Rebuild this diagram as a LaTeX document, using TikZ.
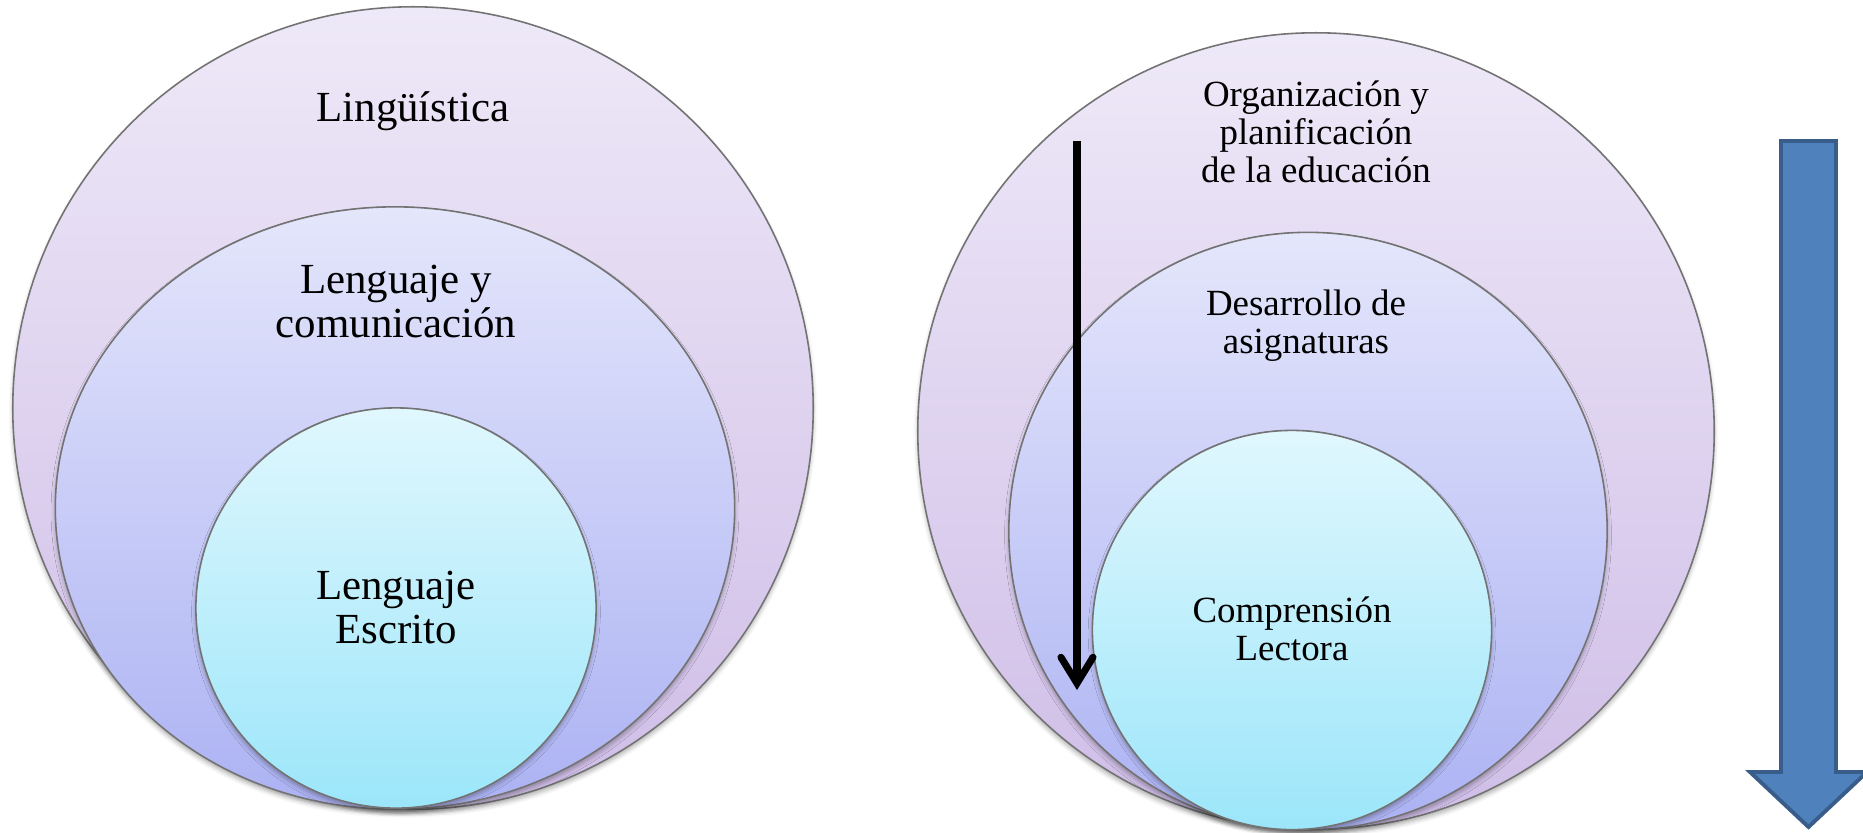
\documentclass[tikz,border=0pt]{standalone}
\usepackage{fontspec}
\setmainfont{Liberation Serif}
\usetikzlibrary{shapes.geometric,arrows.meta,shadows.blur}
\definecolor{oTop}{HTML}{EEE9F8}
\definecolor{oBot}{HTML}{CFBDE7}
\definecolor{mTop}{HTML}{E4E6FB}
\definecolor{mBot}{HTML}{ACB2F3}
\definecolor{iTop}{HTML}{E0F7FD}
\definecolor{iBot}{HTML}{9CE6FA}
\definecolor{arrFill}{HTML}{4F81BD}
\definecolor{arrLine}{HTML}{385D8A}
\begin{document}
\begin{tikzpicture}[x=0.01cm,y=-0.01cm,
  ring/.style={ellipse, draw=black!55, line width=0.45pt, inner sep=0pt,
    blur shadow={shadow xshift=0pt, shadow yshift=-1.1pt, shadow blur radius=1.2pt, shadow opacity=30}},
  outerring/.style={ring, top color=oTop, bottom color=oBot},
  midring/.style={ring, top color=mTop, bottom color=mBot},
  innerring/.style={ring, top color=iTop, bottom color=iBot},
  bigtxt/.style={font=\fontsize{12.2}{12.5}\selectfont, align=center, inner sep=0pt, anchor=base},
  smalltxt/.style={font=\fontsize{10.5}{10.8}\selectfont, align=center, inner sep=0pt, anchor=base},
  blackarrow/.style={line width=2pt, -{Straight Barb[length=2.6mm, width=3.2mm, line cap=round]}},
  bluearrow/.style={fill=arrFill, draw=arrLine, line width=1.1pt, line join=miter}]
\useasboundingbox (0,0) rectangle (1863,832);
% left diagram
\node[outerring, minimum width=8cm, minimum height=8.02cm] (L1) at (413,408) {};
\node[midring, minimum width=6.79cm, minimum height=6.02cm] (L2) at (395,508) {};
\node[innerring, minimum width=4cm, minimum height=4cm] (L3) at (396,608) {};
\node[bigtxt] (tL1) at (413,121) {Lingüística};
\node[bigtxt] (tL2) at (396,337) {Lenguaje y\\comunicación};
\node[bigtxt] (tL3) at (396,643) {Lenguaje\\Escrito};
% right diagram
\node[outerring, minimum width=7.96cm, minimum height=7.96cm] (R1) at (1316,431) {};
\node[midring, minimum width=5.98cm, minimum height=5.97cm] (R2) at (1308,531) {};
\node[innerring, minimum width=3.99cm, minimum height=3.99cm] (R3) at (1292,630) {};
\node[smalltxt] (tR1) at (1316,182) {Organización y\\planificación\\de la educación};
\node[smalltxt] (tR2) at (1306,353) {Desarrollo de\\asignaturas};
\node[smalltxt] (tR3) at (1292,660) {Comprensión\\Lectora};
% black arrow
\coordinate (bs) at (1077,141);
\coordinate (be) at (1077,690);
\draw[blackarrow] (bs) -- (be);
% blue block arrow
\draw[bluearrow] (1781,141) -- (1836,141) -- (1836,772) -- (1867,772) -- (1808.5,827)
  -- (1750,772) -- (1781,772) -- cycle;
\end{tikzpicture}
\end{document}
